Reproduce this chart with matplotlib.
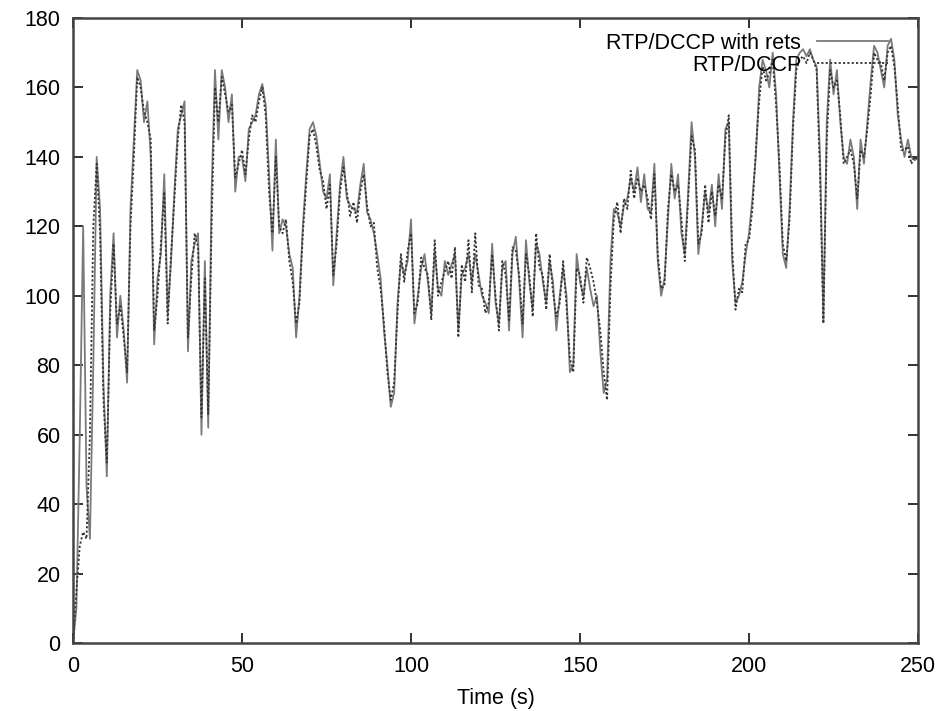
import numpy as np
import matplotlib
matplotlib.use('Agg')
import matplotlib.pyplot as plt


# time axis, one sample per second
time_s = list(range(0, 251))

# RTP/DCCP with retransmissions (solid)
rate_rets = [
    0, 10, 60, 120, 45, 30, 80, 140, 125, 75,
    48, 100, 118, 88, 100, 90, 75, 125, 145, 165,
    162, 150, 156, 140, 86, 105, 112, 135, 95, 110,
    130, 148, 152, 156, 84, 110, 115, 118, 60, 110,
    62, 130, 165, 145, 165, 160, 150, 158, 130, 140,
    140, 133, 148, 150, 152, 158, 161, 155, 135, 113,
    145, 118, 122, 120, 112, 108, 88, 100, 120, 135,
    148, 150, 146, 138, 130, 128, 135, 103, 118, 132,
    140, 128, 126, 125, 124, 132, 138, 124, 122, 118,
    112, 105, 90, 80, 68, 72, 98, 110, 106, 110,
    122, 92, 100, 108, 112, 104, 95, 113, 102, 100,
    110, 106, 109, 112, 90, 106, 108, 112, 104, 112,
    106, 100, 98, 95, 115, 98, 92, 108, 110, 90,
    112, 117, 104, 88, 116, 104, 96, 115, 112, 104,
    98, 110, 104, 90, 100, 108, 100, 78, 80, 112,
    104, 100, 108, 102, 97, 100, 84, 72, 76, 110,
    125, 124, 120, 126, 128, 134, 130, 137, 127, 135,
    125, 124, 138, 110, 100, 105, 122, 138, 128, 135,
    118, 112, 130, 150, 140, 112, 120, 130, 124, 132,
    120, 135, 125, 148, 150, 110, 98, 100, 104, 112,
    118, 128, 140, 160, 168, 165, 160, 170, 158, 135,
    112, 108, 125, 150, 168, 170, 171, 169, 171, 168,
    166, 140, 93, 150, 168, 158, 165, 150, 140, 138,
    145, 140, 125, 145, 138, 150, 162, 172, 170, 165,
    160, 172, 174, 168, 152, 145, 140, 145, 140, 139,
    140,
]

# RTP/DCCP without retransmissions (dotted)
rate_plain = [
    0, 15, 28, 32, 30, 60, 120, 138, 118, 70,
    52, 95, 115, 92, 97, 88, 78, 120, 140, 163,
    160, 153, 150, 145, 90, 100, 115, 130, 92, 112,
    128, 145, 155, 150, 88, 105, 118, 114, 65, 105,
    66, 120, 160, 150, 163, 158, 153, 155, 134, 138,
    142, 135, 145, 152, 150, 156, 160, 152, 130, 118,
    140, 120, 118, 122, 110, 104, 92, 98, 118, 132,
    146, 148, 143, 136, 133, 125, 132, 106, 115, 130,
    137, 130, 123, 127, 121, 130, 135, 126, 120, 121,
    108, 102, 92, 78, 70, 75, 95, 112, 104, 113,
    118, 95, 98, 111, 108, 106, 93, 116, 100, 104,
    107, 110, 105, 114, 88, 109, 104, 116, 101, 118,
    103, 102, 95, 98, 112, 100, 90, 110, 106, 93,
    114, 113, 106, 92, 112, 106, 94, 118, 108, 106,
    96, 112, 101, 94, 98, 110, 97, 82, 78, 108,
    106, 98, 111, 108, 104, 98, 90, 78, 70, 102,
    122, 127, 118, 128, 125, 136, 128, 134, 130, 132,
    128, 122, 135, 112, 102, 103, 125, 135, 130, 132,
    122, 110, 128, 146, 142, 115, 118, 132, 121, 130,
    123, 132, 128, 145, 152, 114, 96, 102, 101, 115,
    116, 125, 142, 156, 166, 162, 164, 168, 155, 138,
    115, 110, 122, 148, 165, 168, 169, 167, 170, 168,
    165, 135, 92, 145, 165, 160, 162, 152, 138, 140,
    142, 138, 128, 142, 140, 148, 158, 170, 168, 167,
    162, 170, 172, 166, 155, 142, 142, 143, 138, 140,
    139,
]

x_ticks = [0, 50, 100, 150, 200, 250]
y_ticks = [0, 20, 40, 60, 80, 100, 120, 140, 160, 180]


def main():
    plt.rcParams['font.family'] = ['Liberation Sans', 'DejaVu Sans']
    plt.rcParams['font.size'] = 15.5

    fig = plt.figure(figsize=(9.41, 7.11), dpi=100)
    ax = fig.add_axes([0.0776, 0.0956, 0.8980, 0.8791])

    ax.plot(time_s, rate_rets, color='#7a7a7a', lw=1.3, ls='-',
            label='RTP/DCCP with rets')
    ax.plot(time_s, rate_plain, color='#333333', lw=1.3, ls=(0, (1.2, 1.2)),
            label='RTP/DCCP')

    ax.set_xlim(0, 250)
    ax.set_ylim(0, 180)
    ax.set_xticks(x_ticks)
    ax.set_yticks(y_ticks)
    ax.tick_params(direction='in', length=7, width=1.3, top=True, right=True,
                   pad=9, colors='#222222', labelcolor='black')
    for sp in ax.spines.values():
        sp.set_linewidth(1.8)
        sp.set_color('#444444')

    ax.set_xlabel('Time (s)', labelpad=8)

    ax.legend(loc='upper right', bbox_to_anchor=(0.975, 0.99), frameon=False,
              markerfirst=False, handlelength=3.3, handletextpad=0.75,
              labelspacing=0.05, borderaxespad=0.0)

    fig.savefig('out.png', dpi=100)
    plt.close(fig)


if __name__ == '__main__':
    main()
